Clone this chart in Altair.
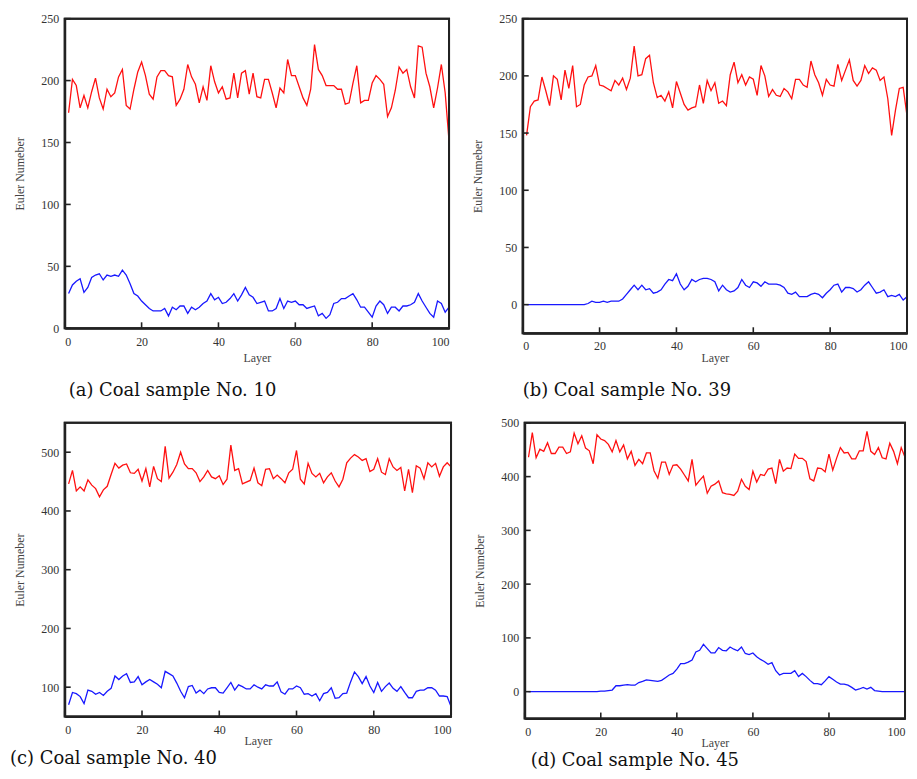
import altair as alt
import pandas as pd

layers = list(range(1, 101))
x_ticks = [0, 20, 40, 60, 80, 100]

a_red = [174,201,196,178,188,178,191,202,186,177,
         193,187,190,203,209,180,177,193,207,215,
         204,189,185,203,208,208,204,203,180,185,
         193,213,203,197,182,195,184,212,199,190,
         195,185,186,206,186,206,208,189,206,187,
         186,201,201,190,178,194,190,217,204,204,
         195,186,180,193,229,209,204,196,196,196,
         193,193,181,182,198,212,182,184,184,198,
         204,201,197,171,178,192,211,206,209,195,
         186,228,227,206,195,178,194,213,190,151]
a_blue = [28,35,38,40,29,33,41,43,44,39,
          43,42,43,42,47,43,36,28,26,22,
          19,16,14,14,14,16,10,17,15,18,
          18,12,17,15,17,20,22,28,23,25,
          20,21,24,28,22,27,33,27,25,20,
          21,22,14,14,16,24,16,22,21,22,
          19,19,16,17,18,10,12,8,11,20,
          21,24,24,26,28,23,17,17,13,9,
          18,22,19,12,17,17,14,18,18,19,
          21,28,22,17,12,9,22,20,13,17]

b_red = [148,173,178,179,199,187,174,200,197,179,
         205,189,209,173,175,192,199,200,209,192,
         191,189,187,196,192,198,188,198,226,200,
         201,215,218,194,181,183,178,186,172,195,
         185,175,170,172,173,192,176,196,187,194,
         176,178,174,201,212,194,201,192,199,197,
         183,209,200,182,188,183,182,189,186,180,
         197,197,192,190,213,201,194,183,197,192,
         191,210,196,205,214,196,191,196,209,202,
         207,205,196,199,180,148,170,189,190,165]
b_blue = [0,0,0,0,0,0,0,0,0,0,
          0,0,0,0,0,0,1,3,2,2,
          3,2,3,3,3,5,9,13,17,13,
          17,13,14,10,11,13,18,22,21,27,
          18,13,16,22,20,22,23,23,22,20,
          12,17,13,11,12,15,22,17,15,20,
          19,16,20,18,18,18,17,15,10,9,
          11,7,7,7,9,10,9,6,10,13,
          17,18,11,15,15,14,11,13,17,20,
          15,10,11,13,7,8,7,9,4,7]

c_red = [446,469,434,441,434,453,444,438,424,436,
         442,462,481,473,478,480,465,464,471,451,
         472,441,476,455,450,510,456,466,479,500,
         480,472,472,465,450,458,469,458,455,460,
         445,454,512,469,472,446,449,452,473,448,
         443,471,472,455,461,455,448,465,471,503,
         454,446,481,464,458,464,448,458,465,451,
         441,454,482,490,496,492,486,489,467,471,
         489,466,462,489,475,469,474,434,471,431,
         477,473,455,482,475,481,459,475,482,475]
c_blue = [70,91,89,84,72,95,93,88,91,86,
          93,98,119,113,119,123,108,109,118,104,
          109,113,109,105,99,127,123,119,107,93,
          82,101,103,90,95,89,97,99,99,91,
          90,99,108,95,104,101,97,97,104,100,
          97,104,102,102,109,92,88,97,97,102,
          99,88,89,85,89,77,89,91,99,81,
          82,89,90,109,126,118,106,118,102,91,
          108,93,101,107,98,93,101,91,82,82,
          93,95,95,99,99,95,85,85,84,67]

d_red = [436,482,435,451,447,463,443,443,455,455,
         443,446,481,461,476,453,448,424,478,470,
         467,460,446,467,446,459,433,447,421,432,
         424,444,444,411,397,427,427,404,421,422,
         414,403,392,432,384,393,401,369,382,386,
         392,370,368,367,365,373,395,382,376,410,
         390,404,402,414,416,387,432,410,416,415,
         442,434,434,428,396,392,416,415,409,442,
         412,434,454,444,445,433,433,448,448,484,
         447,441,454,435,433,462,447,424,454,436]
d_blue = [0,0,0,0,0,0,0,0,0,0,
          0,0,0,0,0,0,0,0,0,1,
          1,2,3,11,11,12,13,12,12,17,
          19,22,21,20,19,21,26,31,34,42,
          52,52,55,59,74,77,88,80,72,72,
          82,77,76,83,79,76,83,71,69,72,
          65,60,56,51,54,39,31,34,34,34,
          39,28,34,28,21,15,15,13,20,28,
          23,18,14,14,12,8,3,5,8,5,
          8,2,1,0,0,0,0,0,0,0]

captions = ["(a)  Coal sample No. 10", "(b)  Coal sample No. 39",
            "(c)  Coal sample No. 40", "(d)  Coal sample No. 45"]

SERIF = "Liberation Serif"
FRAME = "#222222"


def panel(red, blue, ydom, yticks, w, h, caption, cap_dx, cap_offset,
          lab_pad, title_pad):
    df = pd.DataFrame({
        "layer": layers + layers,
        "value": red + blue,
        "series": ["red"] * len(red) + ["blue"] * len(blue),
    })
    xsc = alt.Scale(domain=[0, 100], nice=False)
    ysc = alt.Scale(domain=ydom, nice=False, zero=False)
    common = dict(domain=True, domainColor=FRAME, domainWidth=2,
                  ticks=False, tickSize=0, grid=False,
                  labelFont=SERIF, labelFontSize=12, labelColor="#333333",
                  titleFont=SERIF, titleFontSize=12, titleFontWeight="normal",
                  titleColor="#444444")
    x_axis = alt.Axis(values=x_ticks, title="Layer", labelPadding=lab_pad,
                      labelFlush=True, titlePadding=title_pad, **common)
    y_axis = alt.Axis(values=yticks, title="Euler Numeber", labelPadding=6,
                      minExtent=30, maxExtent=30, titlePadding=8, **common)
    lines = alt.Chart(df).mark_line(strokeWidth=1.3, clip=True).encode(
        x=alt.X("layer:Q", scale=xsc, axis=x_axis),
        y=alt.Y("value:Q", scale=ysc, axis=y_axis),
        color=alt.Color("series:N",
                        scale=alt.Scale(domain=["red", "blue"], range=["#ff1010", "#1818ff"]),
                        legend=None),
    )
    xt = alt.Chart(pd.DataFrame({"layer": x_ticks})).mark_rule(
        color=FRAME, strokeWidth=1.6).encode(
        x=alt.X("layer:Q", scale=xsc, axis=x_axis), y=alt.value(h), y2=alt.value(h - 6))
    yt = alt.Chart(pd.DataFrame({"value": yticks})).mark_rule(
        color=FRAME, strokeWidth=1.6).encode(
        y=alt.Y("value:Q", scale=ysc, axis=y_axis), x=alt.value(0), x2=alt.value(6))
    frame = alt.Chart(pd.DataFrame({"frame": [0]})).mark_rect(
        fill=None, fillOpacity=0, stroke=FRAME, strokeWidth=2).encode(
        x=alt.value(0), x2=alt.value(w), y=alt.value(0), y2=alt.value(h))
    return alt.layer(lines, xt, yt, frame).properties(
        width=w, height=h,
        title=alt.TitleParams(caption, orient="bottom", anchor="start", frame="group",
                              dx=cap_dx, offset=cap_offset, font="DejaVu Serif",
                              fontSize=18, fontWeight="normal", color="#111111"),
    )


pa = panel(a_red, a_blue, [0, 250], [0, 50, 100, 150, 200, 250], 386, 311,
           captions[0], 4, 19, 8, 5)
pb = panel(b_red, b_blue, [-25, 250], [0, 50, 100, 150, 200, 250], 386, 316,
           captions[1], 0, 19, 7, 1)
pc = panel(c_red, c_blue, [50, 550], [100, 200, 300, 400, 500], 388, 295,
           captions[2], -55, 4, 8, 0)
pd_ = panel(d_red, d_blue, [-50, 500], [0, 100, 200, 300, 400, 500], 382, 297,
            captions[3], 6, 4, 8, 0)

chart = alt.vconcat(
    alt.hconcat(pa, pb, spacing=20),
    alt.hconcat(pc, pd_, spacing=20),
    spacing=15,
).properties(
    padding={"left": 1, "top": 2, "right": 0, "bottom": 0},
    background="white",
).configure_view(
    stroke=FRAME, strokeWidth=2,
)

chart.save("out.html", embed_options={"renderer": "svg", "actions": False})
